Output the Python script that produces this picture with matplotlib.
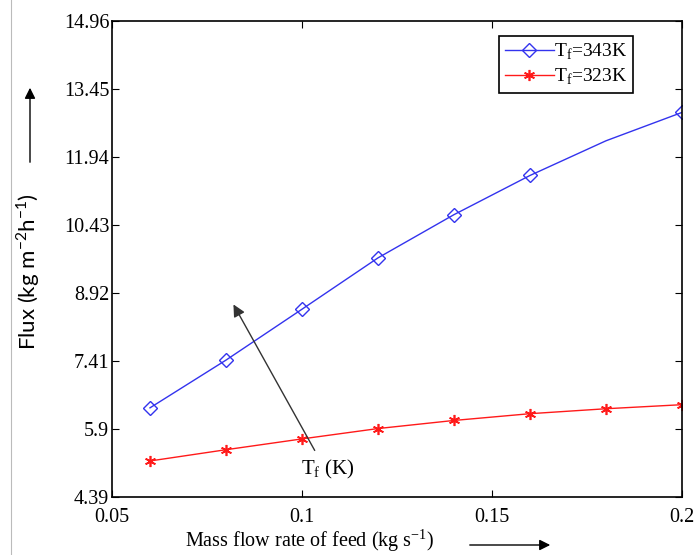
import matplotlib.pyplot as plt
from matplotlib.lines import Line2D
from matplotlib.patches import FancyArrowPatch

# data
flow = [0.06, 0.08, 0.10, 0.12, 0.14, 0.16, 0.18, 0.20]
flux_343 = [6.37, 7.43, 8.56, 9.70, 10.66, 11.53, 12.30, 12.93]
flux_323 = [5.19, 5.44, 5.68, 5.91, 6.09, 6.24, 6.35, 6.44]
yticks = [4.39, 5.9, 7.41, 8.92, 10.43, 11.94, 13.45, 14.96]
xticks = [0.05, 0.1, 0.15, 0.2]
xtick_labels = ['0.05', '0.1', '0.15', '0.2']
labels = ['T$_\\mathregular{f}$=343K', 'T$_\\mathregular{f}$=323K']

serif = 'Liberation Serif'
plt.rcParams['mathtext.fontset'] = 'custom'
plt.rcParams['mathtext.rm'] = serif

fig = plt.figure(figsize=(6.96, 5.55), dpi=100)
ax = fig.add_axes([112 / 696, 1 - 497 / 555, 570 / 696, 476 / 555])

# blue curve: no marker at 0.18 in the original
ax.plot(flow, flux_343, color='#3333ee', lw=1.0, marker='D', markersize=7,
        markerfacecolor='none', markeredgecolor='#3333ee', markeredgewidth=1.0,
        markevery=[0, 1, 2, 3, 4, 5, 7], label=labels[0])
ax.plot(flow, flux_323, color='#ff1a1a', lw=1.0, marker=(6, 2, 0), markersize=8,
        markeredgewidth=1.2, markeredgecolor='#ff1a1a', label=labels[1])

ax.set_xlim(0.05, 0.2)
ax.set_ylim(4.39, 14.96)
ax.set_xticks(xticks)
ax.set_xticklabels(xtick_labels)
ax.set_yticks(yticks)
ax.set_yticklabels([str(v) for v in yticks])
ax.tick_params(direction='in', length=5, width=0.8, right=True, top=True,
               labelsize=14.5, pad=2)
ax.tick_params(axis='x', pad=8)
for lab in ax.get_xticklabels() + ax.get_yticklabels():
    lab.set_family(serif)
for s in ax.spines.values():
    s.set_linewidth(1.2)

leg = ax.legend(loc='upper right', bbox_to_anchor=(633 / 696, 1 - 36 / 555),
                bbox_transform=fig.transFigure, fancybox=False, framealpha=1,
                edgecolor='black', prop={'family': serif, 'size': 14},
                handlelength=2.5, handletextpad=0.0, borderpad=0.3,
                labelspacing=0.22, borderaxespad=0)
leg.get_frame().set_linewidth(1.2)

# T_f arrow inside the plot
ax.annotate('', xy=(0.0816, 8.72), xytext=(0.1037, 5.37),
            arrowprops=dict(arrowstyle='-|>', color='#333333', lw=1.0,
                            mutation_scale=18))
ax.text(0.1068, 4.99, 'T$_\\mathregular{f}$ (K)', family=serif, fontsize=15,
        ha='center', va='center')

# axis labels with their arrows
fig.text(28 / 696, 1 - 272 / 555, 'Flux (kg m$^\\mathregular{-2}$h$^\\mathregular{-1}$)',
         rotation=90, ha='center', va='center', family='Lato', fontsize=16)
fig.add_artist(FancyArrowPatch(
    (30 / 696, 1 - 165 / 555), (30 / 696, 1 - 85 / 555), transform=fig.transFigure,
    arrowstyle='-|>', mutation_scale=16, color='black', lw=1.0))
fig.text(185 / 696, 1 - 541 / 555, 'Mass flow rate of feed (kg s$^\\mathregular{-1}$)',
         ha='left', va='center', family=serif, fontsize=14.5)
fig.add_artist(FancyArrowPatch(
    (467 / 696, 1 - 545 / 555), (553 / 696, 1 - 545 / 555), transform=fig.transFigure,
    arrowstyle='-|>', mutation_scale=16, color='black', lw=1.0))

# thin grey border line at the left edge of the screenshot
fig.add_artist(Line2D([11 / 696, 11 / 696], [0, 1], transform=fig.transFigure,
                      color='#bbbbbb', lw=0.8))

fig.savefig('out.png', dpi=100)
